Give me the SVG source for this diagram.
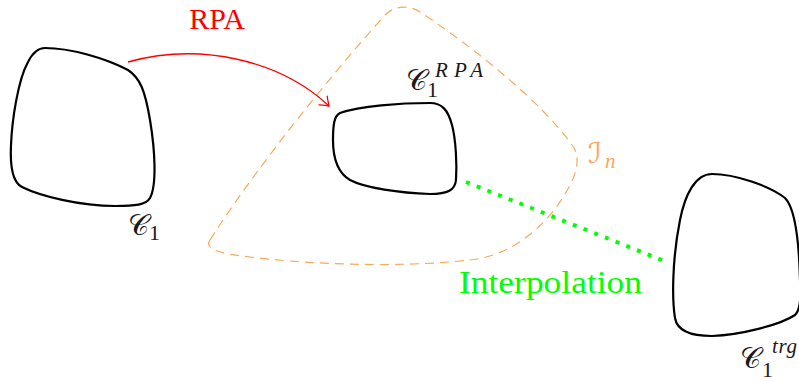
<svg xmlns="http://www.w3.org/2000/svg" width="799" height="381" viewBox="0 0 799 381">
<style>
.shape{fill:none;stroke:#000;stroke-width:2.2;stroke-linejoin:round}
.cal{font-family:"DejaVu Serif","DejaVu Sans",serif;fill:#1a1a1a;font-size:29px}
.num{font-family:"Liberation Serif","DejaVu Serif",serif;fill:#1a1a1a;font-size:22px}
.sup{font-family:"Liberation Serif","DejaVu Serif",serif;font-style:italic;fill:#1a1a1a;font-size:21px}
.lbl{font-family:"Liberation Serif","DejaVu Serif",serif}
</style>
<defs>
<marker id="to" viewBox="-10 -8 12 16" markerWidth="12" markerHeight="16" refX="0" refY="0" orient="auto" markerUnits="userSpaceOnUse">
<path d="M-8,-6 C-5,-3 -1,-1 0,0 C-1,1 -5,3 -8,6" fill="none" stroke="#ff0000" stroke-width="1.3" stroke-linecap="round"/>
</marker>
</defs>
<g id="region-In">
<path d="M 210,240 C 235,200 300,110 385,15 C 395,5 410,5 420,12 C 470,45 540,100 572,145 C 580,155 578,170 570,185 C 555,215 520,255 470,260 C 400,268 300,265 228,254 C 210,250 206,246 210,240 Z" fill="none" stroke="#f7a95c" stroke-width="1.2" stroke-dasharray="9 6"/>
<text class="cal" x="588" y="163" font-style="italic" style="fill:#f7a95c">ℐ</text>
<text class="sup" x="605" y="168" style="fill:#f7a95c">n</text>
</g>
<g id="node-C1">
<path class="shape" d="M 45,48 C 70,48 105,58 128,70 C 140,78 145,90 150,120 C 155,150 157,185 150,198 C 146,205 135,206 115,206 C 80,206 40,196 22,187 C 12,182 10,165 11,145 C 12,120 18,80 28,62 C 32,54 38,48 45,48 Z"/>
<text class="cal" x="128" y="235">𝒞</text>
<text class="num" x="149" y="240">1</text>
</g>
<g id="node-C1RPA">
<path class="shape" d="M 340,113 C 360,106 400,103 430,103 C 442,103 448,110 452,125 C 456,140 457,165 456,180 C 455,190 448,194 430,194 C 400,193 365,188 350,180 C 338,173 333,158 333,140 C 333,125 334,116 340,113 Z"/>
<text class="cal" x="406" y="90">𝒞</text>
<text class="num" x="427" y="97">1</text>
<text class="sup" x="435" y="77" textLength="48" lengthAdjust="spacing">RPA</text>
</g>
<g id="node-C1trg">
<path class="shape" d="M 712,174 C 735,174 770,186 785,198 C 795,208 799,240 800,280 C 801,300 800,310 795,315 C 780,325 740,335 712,336 C 690,336 677,330 675,318 C 672,300 672,260 680,220 C 685,195 695,174 712,174 Z"/>
<text class="cal" x="740" y="368">𝒞</text>
<text class="num" x="762" y="377">1</text>
<text class="sup" x="772" y="353" textLength="25" lengthAdjust="spacing">trg</text>
</g>
<g id="connectors">
<path d="M 128,62 C 200,42 280,60 329,106" fill="none" stroke="#ff0000" stroke-width="1.3" marker-end="url(#to)"/>
<text class="lbl" x="217" y="29" font-size="30" fill="#ff0000" text-anchor="middle">RPA</text>
<path d="M 466,182 L 667,262" fill="none" stroke="#00ff00" stroke-width="4" stroke-dasharray="4 7.5"/>
<text class="lbl" x="459" y="293" font-size="31" fill="#00ff00" textLength="183" lengthAdjust="spacingAndGlyphs">Interpolation</text>
</g>
</svg>
